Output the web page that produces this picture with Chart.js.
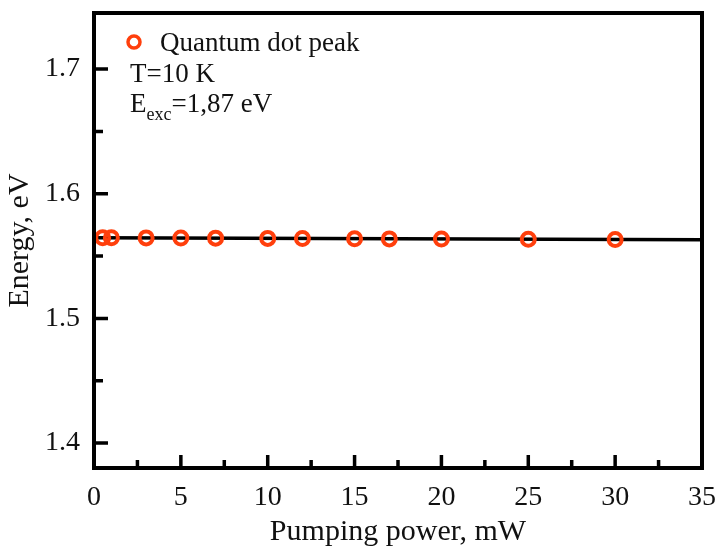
<!DOCTYPE html>
<html>
<head>
<meta charset="utf-8">
<script src="https://cdn.jsdelivr.net/npm/chart.js@4/dist/chart.umd.min.js"></script>
<style>
html,body{margin:0;padding:0;background:#fff;}
#wrap{width:719px;height:549px;position:relative;}
</style>
</head>
<body>
<div id="wrap"><canvas id="c" width="719" height="549"></canvas></div>
<script>
// Data
const powerMW = [0.5, 1, 3, 5, 7, 10, 12, 15, 17, 20, 25, 30];
const energyEV = [1.5647, 1.5647, 1.5646, 1.5645, 1.5644, 1.5642, 1.5641, 1.5639, 1.5638, 1.5637, 1.5635, 1.5633];
const fitX = [0, 35];
const fitY = [1.5647, 1.5631];
const xMajorTicks = [0, 5, 10, 15, 20, 25, 30, 35];
const xMinorTicks = [2.5, 7.5, 12.5, 17.5, 22.5, 27.5, 32.5];
const yMajorTicks = [1.4, 1.5, 1.6, 1.7];
const yMinorTicks = [1.45, 1.55, 1.65];
const legendLabel = 'Quantum dot peak';
const noteT = 'T=10 K';
const noteE = ['E', 'exc', '=1,87 eV'];

const FONT = '"Liberation Serif", "Times New Roman", serif';
const RED = '#ff3f0c';

const framePlugin = {
  id: 'frame',
  afterDraw(chart) {
    const {ctx, chartArea: a, scales: {x, y}} = chart;
    ctx.save();
    ctx.strokeStyle = '#000';
    ctx.lineWidth = 4;
    ctx.strokeRect(a.left, a.top, a.right - a.left, a.bottom - a.top);
    ctx.lineWidth = 3.5;
    ctx.beginPath();
    xMajorTicks.forEach(v => { const px = x.getPixelForValue(v); ctx.moveTo(px, a.bottom); ctx.lineTo(px, a.bottom - 13); });
    xMinorTicks.forEach(v => { const px = x.getPixelForValue(v); ctx.moveTo(px, a.bottom); ctx.lineTo(px, a.bottom - 8); });
    yMajorTicks.forEach(v => { const py = y.getPixelForValue(v); ctx.moveTo(a.left, py); ctx.lineTo(a.left + 14, py); });
    yMinorTicks.forEach(v => { const py = y.getPixelForValue(v); ctx.moveTo(a.left, py); ctx.lineTo(a.left + 9, py); });
    ctx.stroke();

    // legend + notes
    ctx.beginPath();
    ctx.strokeStyle = RED;
    ctx.lineWidth = 3.5;
    ctx.arc(134, 42, 6, 0, Math.PI * 2);
    ctx.stroke();
    ctx.fillStyle = '#111';
    ctx.textBaseline = 'alphabetic';
    ctx.textAlign = 'left';
    ctx.font = '27px ' + FONT;
    ctx.fillText(legendLabel, 160, 51);
    ctx.fillText(noteT, 130, 82);
    ctx.fillText(noteE[0], 130, 112);
    const wE = ctx.measureText(noteE[0]).width;
    ctx.font = '18px ' + FONT;
    ctx.fillText(noteE[1], 130 + wE, 120);
    const wS = ctx.measureText(noteE[1]).width;
    ctx.font = '27px ' + FONT;
    ctx.fillText(noteE[2], 130 + wE + wS, 112);
    ctx.restore();
  }
};

new Chart(document.getElementById('c'), {
  type: 'scatter',
  data: {
    datasets: [
      {
        label: 'fit',
        type: 'line',
        data: fitX.map((v, i) => ({x: v, y: fitY[i]})),
        borderColor: '#000',
        borderWidth: 3.5,
        pointRadius: 0,
        fill: false,
        order: 2
      },
      {
        label: legendLabel,
        data: powerMW.map((v, i) => ({x: v, y: energyEV[i]})),
        borderColor: RED,
        backgroundColor: 'rgba(0,0,0,0)',
        pointRadius: 6.5,
        pointBorderWidth: 4,
        order: 1
      }
    ]
  },
  options: {
    responsive: false,
    animation: false,
    layout: {padding: {top: 13, right: 17, left: 0, bottom: 0}},
    plugins: {legend: {display: false}, tooltip: {enabled: false}},
    scales: {
      x: {
        type: 'linear', min: 0, max: 35,
        afterBuildTicks: s => { s.ticks = xMajorTicks.map(v => ({value: v})); },
        afterFit: s => { s.height = 81; s.paddingLeft = 0; s.paddingRight = 0; },
        grid: {display: false, drawTicks: false},
        border: {display: false},
        ticks: {color: '#111', font: {family: FONT, size: 28}, padding: 13, maxRotation: 0},
        title: {display: true, text: 'Pumping power, mW', color: '#111', font: {family: FONT, size: 30, lineHeight: 1.0}, padding: {top: 0, bottom: 2}}
      },
      y: {
        type: 'linear', min: 1.38, max: 1.745,
        afterBuildTicks: s => { s.ticks = yMajorTicks.map(v => ({value: v})); },
        afterFit: s => { s.width = 94; s.paddingTop = 0; s.paddingBottom = 0; },
        grid: {display: false, drawTicks: false},
        border: {display: false},
        ticks: {color: '#111', font: {family: FONT, size: 28}, padding: 14, callback: v => v.toFixed(1)},
        title: {display: true, text: 'Energy, eV', color: '#111', font: {family: FONT, size: 30, lineHeight: 1.0}, padding: {top: 5, bottom: 0}}
      }
    }
  },
  plugins: [framePlugin]
});
</script>
</body>
</html>
